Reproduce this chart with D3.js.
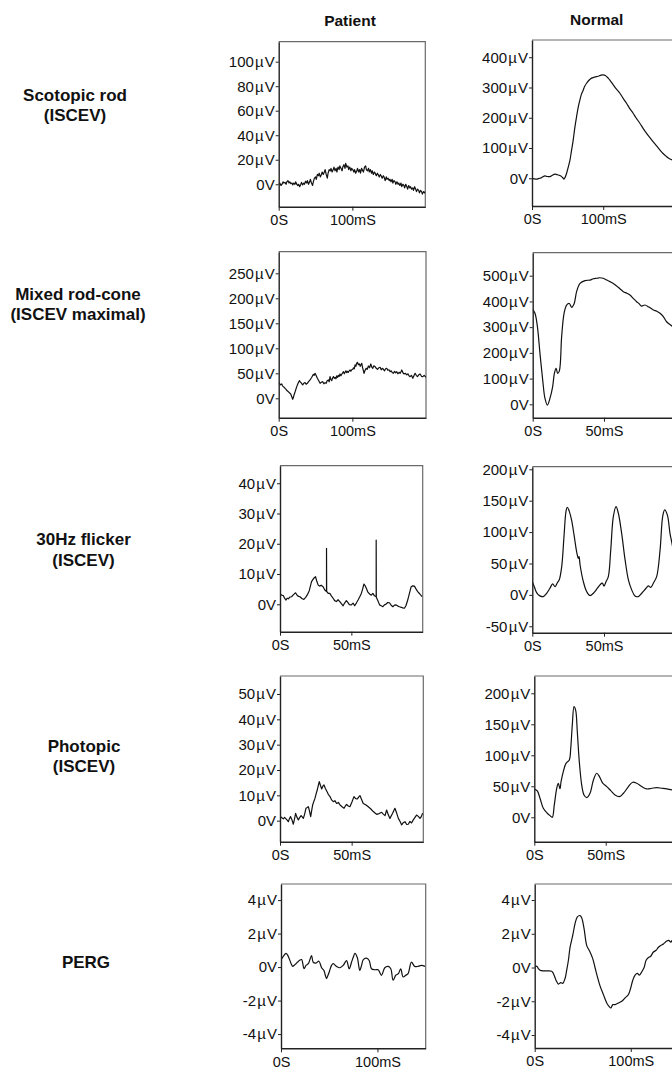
<!DOCTYPE html>
<html>
<head>
<meta charset="utf-8">
<script src="https://cdn.jsdelivr.net/npm/d3@7"></script>
<style>
  html, body { margin: 0; padding: 0; background: #fff; overflow: hidden; }
  svg { display: block; }
</style>
</head>
<body>
<svg id="chart" width="672" height="1069"></svg>
<script>
// ---- Data ---------------------------------------------------------
// ERG traces: [time in ms, amplitude in µV]

const COLUMNS = ['Patient', 'Normal'];

const ROW_LABELS = [
  ['Scotopic rod', '(ISCEV)'],
  ['Mixed rod-cone', '(ISCEV maximal)'],
  ['30Hz flicker', '(ISCEV)'],
  ['Photopic', '(ISCEV)'],
  ['PERG']
];

// tick values (µV) per panel
const Y_TICKS_P = [[0, 20, 40, 60, 80, 100], [0, 50, 100, 150, 200, 250], [0, 10, 20, 30, 40], [0, 10, 20, 30, 40, 50], [-4, -2, 0, 2, 4]];
const Y_TICKS_N = [[0, 100, 200, 300, 400], [0, 100, 200, 300, 400, 500], [-50, 0, 50, 100, 150, 200], [0, 50, 100, 150, 200], [-4, -2, 0, 2, 4]];
// tick values (ms)
const X_TICKS_P = [[0, 100], [0, 100], [0, 50], [0, 50], [0, 100]];
const X_TICKS_N = [[0, 100], [0, 50], [0, 50], [0, 50], [0, 100]];

// axis extents (data units)
const Y_DOM_P = [[-18.3, 116.3], [-38.8, 293.2], [-9.06, 45.8], [-8.3, 57.1], [-4.85, 4.96]];
const Y_DOM_N = [[-91.6, 457], [-52, 589.4], [-60.2, 204.1], [-39.4, 227.9], [-4.77, 4.95]];
const X_DOM_P = [[0, 199], [0, 200], [0, 100], [0, 100], [0, 150]];
const X_DOM_N = [[0, 205], [0, 102.4], [0, 101.8], [0, 102.2], [0, 152]];

const patScotopic = [[0,0],[1.5,1],[3,-1],[4.5,0],[6,2],[7,1],[8.5,1.5],[10,0],[11,2],[12.5,3],[14,1],[15,2],[16.5,0.5],[18,1],[19,-0.5],[20.5,1],[22,0],[23,2],[24.5,0],[26,-1],[27,0],[28.5,-2],[30,0],[31,1.5],[32.5,-0.5],[34,1],[35,0],[36.5,2.5],[38,1],[39,3],[40.5,0],[42,2],[43,4],[44.5,1],[46,-1],[47,2],[48.5,5],[50,6],[51,4],[52.5,8],[54,7],[55,9],[56.5,6],[58,8],[59,10],[60.5,8],[62,10],[63,12],[64.5,8],[66,5],[67,9],[68.5,12],[70,11],[71,13],[72.5,10],[74,12],[75,14],[76.5,11],[78,13],[79,10],[80.5,14],[82,12],[83,15],[84.5,13],[86,11],[87,14],[88.5,16],[90,13],[91,17],[92.5,14],[94,15],[95,12],[96.5,14],[98,11],[99,13],[100.5,12],[102,10],[103,12],[104.5,9],[106,11],[107,13],[108.5,10],[110,12],[111,9],[112.5,13],[114,11],[115,10],[116.5,14],[118,15],[119,12],[120.5,11],[122,13],[123,10],[124.5,12],[126,9],[127,11],[128.5,8],[130,10],[131,9],[132.5,7],[134,9],[135,8],[136.5,6],[138,8],[139,7],[140.5,5],[142,7],[143,6],[144.5,3],[146,6],[147,4],[148.5,5],[150,3],[151,4],[152.5,2],[154,4],[155,1],[156.5,3],[158,2],[159,0],[160.5,2],[162,0],[163,1],[164.5,-1],[166,1],[167,-2],[168.5,0],[170,-1],[171,-3],[172.5,0],[174,-2],[175,-4],[176.5,-1],[178,-3],[179,-2],[180.5,-4],[182,-3],[183,-5],[184.5,-2],[186,-4],[187,-6],[188.5,-4],[190,-5],[191,-7],[192.5,-5],[194,-6],[195,-8],[196.5,-6],[198,-7],[199,-6]];

const patMixed = [[0,31],[0.9,30],[2.5,27],[4.1,28.7],[5.2,25],[6.3,23.3],[8,21],[10,18],[11.5,15],[13.1,13.3],[14.5,11],[16.3,8.7],[17.5,4],[19,-2],[20,2],[20.8,6.7],[22.5,14],[24.5,23.3],[26.3,30],[28.1,35.3],[29.2,33],[30.3,31.3],[31.5,29],[32.6,26.7],[34,30],[35.8,31.3],[37.2,28],[38.9,30],[40.8,34],[42.6,36.7],[44.9,42],[47.1,48],[48.2,46],[49.4,50],[51,45],[52.5,40],[54.4,35],[56.2,30],[58,32],[59.8,33.3],[61.3,29],[63,31.3],[64.5,30],[65.8,35],[67.5,36.7],[68.5,33],[69.7,43.3],[70.8,38],[72,35.3],[73.1,40],[74.3,43.3],[75.5,40],[76.6,42],[77.7,39],[78.8,44.7],[80,42],[81.1,46],[82.2,44],[83.3,48.7],[84.5,45],[85.6,48],[86.8,51],[87.9,53.3],[89,49],[90.1,52],[91.2,55],[92.4,51.3],[93.5,54],[94.6,52],[95.8,55],[96.9,56.7],[98,54],[99.2,57],[100.5,58],[101.6,61],[102.6,59],[103.7,66.7],[104.8,64],[105.8,70],[106.9,72],[108.2,67],[109.6,68.7],[110.7,64],[111.7,67],[112.8,70],[113.8,62],[114.9,56],[115.9,50],[117,55],[118.7,60],[120.2,58],[121.8,64.7],[123.4,61],[125,68.7],[126.3,63],[127.7,60],[129.2,65],[130.9,63.3],[132.5,60],[134.1,58],[135.9,61],[137.7,62],[139.2,57],[140.7,60],[142.2,58],[143.7,55],[145.2,59],[146.7,60],[148.2,56],[149.8,57],[151.3,53.3],[152.8,55],[154.3,51],[155.8,50],[157.3,54],[158.8,51],[160.3,53.3],[161.8,49],[163.4,52],[164.9,50],[166,53],[167.1,56.7],[168.7,51],[170.3,48.7],[172.1,50],[173.9,46.7],[175.4,49],[176.9,45],[178.4,43.3],[180.2,46],[182.1,40],[183.6,45],[185.2,50],[186.8,46],[188.4,43.3],[190.2,47],[192,48.7],[193.8,44],[195.7,43.3],[197.5,46],[200,42]];

const patFlicker = [[0,3.6],[1,3.0],[2.3,2.9],[3.2,2.0],[4.2,1.4],[5,2.0],[5.8,1.8],[7,2.4],[8.1,2.5],[9.5,3.2],[10.9,3.8],[12,3.0],[13,2.6],[14,2.5],[15.3,1.9],[16.7,1.6],[18,2.3],[19.1,3.1],[20.5,4.5],[22.1,7.5],[23.5,8.5],[24.9,9.1],[25.8,7.6],[26.7,6.4],[27.8,6.0],[28.8,6.3],[30.2,5.8],[31.4,4.7],[32.6,4.2],[32.6,18.5],[32.7,4.3],[33.8,3.6],[34.9,3.6],[36,2.8],[37.2,2.0],[38.3,1.2],[39.5,0.9],[40.7,1.5],[41.9,0.9],[43,0.2],[44.2,-0.5],[45.4,0.5],[46.5,1.2],[47.5,0.6],[48.6,-0.1],[50,-0.2],[51.2,0.4],[52.3,-0.5],[53.5,0.4],[54.7,1.4],[55.8,2.4],[57,3.6],[58,5.2],[58.8,6.7],[59.6,6.2],[60.5,5.3],[61.6,4.0],[62.8,3.4],[64,3.0],[65.1,3.6],[66.2,2.8],[67.4,2.5],[67.4,21.2],[67.5,2.3],[68.6,1.2],[69.8,-0.2],[70.9,-0.5],[72.1,-0.8],[73.2,-0.2],[74.4,0.1],[75.5,0.6],[76.7,0.5],[77.9,-0.3],[79.1,-0.8],[80.2,-0.3],[81.4,-0.2],[82.6,-0.6],[83.7,-0.8],[85,-1.0],[86,-1.2],[87.2,-1.3],[88.3,-0.4],[89.5,1.4],[90.7,3.6],[91.9,5.8],[93,6.1],[94.2,6.0],[95.4,5.0],[96.5,4.2],[98,3.4],[99.5,2.5]];

const patPhotopic = [[0,1.6],[1.2,1.2],[2.3,0.7],[3.2,1.3],[4.2,0.7],[5,0.2],[5.8,-0.4],[6.6,0.8],[7.4,1.6],[8.3,0.4],[9.3,-1.4],[10.1,0.6],[10.9,2.9],[11.8,1.4],[12.8,0.3],[13.7,1.2],[14.7,2.0],[15.5,1.5],[16.3,0.9],[17.2,2.6],[18.1,4.9],[19,5.2],[19.8,5.5],[20.6,3.8],[21.4,1.6],[22.1,4.0],[22.8,6.2],[23.6,7.6],[24.4,8.8],[25.2,10.6],[26,12.1],[26.7,13.8],[27.4,15.4],[28.2,14.0],[29.1,12.5],[29.9,13.6],[30.7,14.1],[31.6,12.8],[32.6,11.7],[33.7,10.4],[34.9,9.5],[36,8.2],[37.2,7.5],[38.3,7.9],[39.5,6.8],[40.7,7.2],[41.9,6.2],[43.3,5.5],[44.7,4.9],[45.6,5.8],[46.5,6.4],[47.6,5.8],[48.8,5.5],[50.2,7.4],[51.6,9.5],[52.8,8.7],[54,8.6],[55,9.4],[55.8,9.9],[57,8.3],[58.1,6.8],[59.8,6.3],[61.6,5.5],[63.4,4.6],[65.1,3.6],[66.3,3.0],[67.4,2.5],[69.2,2.8],[70.9,3.3],[72.1,2.6],[73.3,2.0],[74.4,4.2],[75.5,2.4],[76.7,0.9],[78.5,2.8],[80.2,4.9],[81.4,3.0],[82.6,0.9],[83.8,-0.3],[84.9,-1.7],[86,-0.8],[87.2,-0.4],[88.4,-1.5],[89.5,-1.4],[90.7,-0.3],[91.8,-0.9],[93,0.3],[94.2,1.3],[95.3,2.2],[96.5,1.7],[97.7,0.9],[98.6,1.6],[99.5,2.9]];

const patPerg = [[0,0.43],[2.5,0.65],[5.2,0.82],[7,0.7],[8.6,0.49],[10.5,0.2],[12.1,0.04],[14,0.12],[15.5,0.2],[17.3,0.3],[19,0.39],[21.4,0.45],[22.6,0.2],[23.8,-0.1],[25,0],[25.9,0.1],[28.3,0.2],[30,0.45],[31.7,0.69],[33.4,0.29],[36.2,0.24],[39.3,0.35],[42.1,-0.04],[44.5,-0.2],[46,-0.5],[47.2,-0.69],[48.6,-0.5],[50,-0.29],[52.4,0.1],[54.1,0.2],[57.6,0.04],[61,-0.04],[64.5,0.1],[67.9,0.39],[70.7,-0.1],[73.1,0.29],[75,0.6],[76.6,0.82],[79,0.59],[81.7,-0.2],[83.5,0.1],[85.2,0.43],[88.6,0.53],[91.4,0.39],[93.8,-0.1],[97.2,-0.16],[100.7,-0.16],[104.1,-0.49],[107.6,-0.04],[111,0.04],[113.8,-0.1],[116.2,-0.78],[119,-0.49],[121.7,-0.39],[124.1,-0.1],[126.6,-0.59],[129.3,-0.49],[131.7,-0.39],[135.2,0.29],[138.6,0.04],[142.1,0.04],[145.5,0.1],[149.3,0.04]];

const normScotopic = [[0,0],[3,-2],[6.5,-3],[9,-1],[11.2,0],[14,3],[18.2,7.7],[21,6],[25.2,5.5],[28,9],[32.2,14],[35,12],[36.9,11],[39,9],[41.6,5.5],[43.5,1],[44.9,-3],[46.5,3],[48.6,16.5],[51,38],[53.3,60],[55.5,92],[57.9,127],[60,165],[62.6,204],[65,236],[67.3,259],[69.5,278],[72,292],[74,304],[76.6,314],[80,324],[83.6,331],[87,334],[90.7,336],[94,338],[97,341],[100,342],[103,340],[107,331],[110,322],[114,309],[118,296],[123.4,281],[128,264],[132.7,248],[137,231],[142,215],[146,200],[151.4,182],[156,165],[160.7,149],[165,136],[170,121],[175,107],[179.4,94],[184,82],[188.8,72],[192,66],[196.3,61],[200,56],[205,48]];

const normMixed = [[0,369],[1.6,354],[3.3,302],[5.1,198],[7,95],[8.6,23],[10.3,-3],[12.1,23],[14,69],[15.2,120],[16.4,140],[17.5,120],[18.7,130],[20.3,263],[22,354],[23.8,386],[25.7,392],[27.3,377],[29,390],[30.8,438],[33.2,470],[36.7,481],[40.2,483],[42.5,488],[44.9,490],[47,492],[49.5,490],[52,483],[54.2,477],[56.5,470],[58.9,460],[61,450],[63.6,438],[66,432],[68.2,425],[70.5,412],[72.9,399],[74.5,392],[76.4,382],[78.7,386],[81.5,378],[84.6,367],[87,362],[89.3,354],[91.5,342],[93.9,321],[97.7,304],[100,292],[102.4,280]];

const normFlicker = [[0,21],[1.4,13],[3,3.7],[5.3,-1.6],[7.7,-2.7],[10,2.6],[12.3,10.6],[14.2,17.5],[15.8,13],[17.4,19],[18.8,24],[20.5,45],[22.1,93],[23.5,133],[24.4,139.5],[25.8,133],[27.4,119],[29.1,95.5],[30.9,69],[32.1,58],[32.6,61],[33.3,48],[35.6,21],[37.9,5.3],[40.2,-1],[42.6,2.6],[44.9,9],[47.2,16],[48.8,18.6],[50,14],[51.4,21],[53,29],[54.7,71.6],[56.5,124.7],[58.4,140.6],[60,130],[62.3,98],[64.7,55.7],[67,23.9],[69.3,8],[71.6,-1.6],[74,-2.7],[76.3,2.6],[79.3,10.6],[80.9,14.3],[82.6,12],[84.4,18.6],[86.7,29],[89.1,71.6],[90.9,124.7],[92.3,135.3],[94.2,127],[96,98],[97.4,82],[99,62],[101.8,35]];

const normPhotopic = [[0,45.7],[2.1,42.5],[4,30.6],[6.3,14.5],[9.1,6.5],[11,2.7],[12.6,0],[14,19.9],[15.7,46.8],[16.8,54.8],[18,46],[18.7,57],[20.3,73.7],[22.2,87],[24.5,92.5],[25.5,111],[26.6,149],[27.8,178.5],[29,172],[30.1,138],[31.5,89.8],[33.2,52],[34.8,36],[36.7,31.7],[39,38.7],[41.4,60.2],[43.7,71],[45.6,65.6],[47.9,55],[50.7,49.5],[53.5,43],[56.5,36],[59.6,33.3],[62.4,38.7],[65.9,49.5],[68.9,56.5],[71.7,54.8],[75.2,49.5],[78.7,45.7],[82.2,46.8],[85.7,47.8],[89.3,46.8],[92.8,45.7],[96.5,44],[102.2,43]];

const normPerg = [[0,0],[2.1,0.08],[3.8,-0.06],[5.6,-0.16],[9,-0.2],[12.5,-0.2],[17.7,-0.22],[19.4,-0.35],[22.2,-0.75],[24.7,-0.98],[27.1,-0.9],[29.2,-0.94],[31.6,-0.65],[33.3,-0.16],[35.1,0.43],[36.8,1.2],[39.6,1.9],[42,2.6],[44.4,3.0],[47.2,3.08],[49,2.94],[51.4,2.3],[54.2,1.3],[56.9,1.0],[60.4,0.53],[62.8,0],[65.3,-0.55],[68.1,-1.1],[71.5,-1.6],[75,-2.1],[77.4,-2.3],[79.2,-2.4],[81.3,-2.2],[83.7,-2.2],[87.2,-2.1],[90.6,-2.0],[94.1,-1.8],[97.6,-1.6],[100,-1.2],[102.1,-0.75],[104.5,-0.45],[106.9,-0.35],[109,-0.45],[111.5,-0.25],[113.9,0],[116,0.43],[118.4,0.59],[120.8,0.67],[123.6,0.92],[126.4,1.02],[128.8,1.2],[131.3,1.31],[134,1.4],[137.5,1.57],[139.6,1.61],[141.7,1.51],[143,1.6],[147,1.75],[152,1.9]];

const PATIENT = [patScotopic, patMixed, patFlicker, patPhotopic, patPerg];
const NORMAL  = [normScotopic, normMixed, normFlicker, normPhotopic, normPerg];

// ---- Layout -------------------------------------------------------
// panel frames in px: [left, top, width, height]
const FRAME_P = [[278.7, 41.7, 146.6, 165], [278.7, 251.7, 147.3, 166], [280, 465.7, 142.7, 166], [280, 676, 143.3, 165.7], [281, 884, 144.7, 164.3]];
const FRAME_N = [[532, 40, 146, 166], [532.7, 252.7, 146, 165], [532.3, 466.7, 146, 166], [534.3, 676, 146, 165.7], [534.7, 884, 146, 164]];
const LABEL_POS = [[75, 100.5], [78, 299.5], [83.5, 545], [84, 751.5], [86, 967.5]];
const HEAD_POS = [[350, 26], [596.7, 24.5]];

const FONT = '"Liberation Sans", Arial, Helvetica, sans-serif';
const svg = d3.select('#chart');

const fmtV = v => v === 0 ? '0V' : v + 'µV';
const fmtT = t => t === 0 ? '0S' : t + 'mS';

function drawPanel(id, fr, xDom, yDom, xTicks, yTicks, data, smooth) {
  const [px, py, pw, ph] = fr;
  const x = d3.scaleLinear().domain(xDom).range([px, px + pw]);
  const y = d3.scaleLinear().domain(yDom).range([py + ph, py]);

  svg.append('clipPath').attr('id', id)
    .append('rect').attr('x', px).attr('y', py).attr('width', pw).attr('height', ph);

  // top + right border (lighter, like the scan)
  svg.append('path')
    .attr('d', `M${px},${py}H${px + pw}V${py + ph}`)
    .attr('fill', 'none').attr('stroke', '#6a6a6a').attr('stroke-width', 1.2);

  const line = d3.line()
    .x(d => x(d[0])).y(d => y(d[1]))
    .curve(smooth ? d3.curveCatmullRom.alpha(0.5) : d3.curveLinear);

  svg.append('path')
    .datum(data)
    .attr('clip-path', `url(#${id})`)
    .attr('d', line)
    .attr('fill', 'none')
    .attr('stroke', '#111')
    .attr('stroke-width', 1.2)
    .attr('stroke-linejoin', 'round');

  const gy = svg.append('g')
    .attr('transform', `translate(${px},0)`)
    .call(d3.axisLeft(y).tickValues(yTicks).tickFormat(fmtV).tickSize(3).tickSizeOuter(0).tickPadding(1));
  const gx = svg.append('g')
    .attr('transform', `translate(0,${py + ph})`)
    .call(d3.axisBottom(x).tickValues(xTicks).tickFormat(fmtT).tickSize(4).tickSizeOuter(0).tickPadding(4));

  gy.attr('font-size', 15);
  gx.attr('font-size', 14.5);
  [gy, gx].forEach(g => {
    g.attr('font-family', FONT);
    g.select('.domain').attr('stroke', '#222').attr('stroke-width', 1.4);
    g.selectAll('.tick line').attr('stroke', '#222').attr('stroke-width', 1);
    g.selectAll('.tick text').attr('fill', '#111');
  });

  // the µ in the scan is set a little wider than the digits around it
  gy.selectAll('.tick text').each(function (d) {
    if (d === 0) return;
    const t = d3.select(this).text(null);
    t.append('tspan').text(String(d));
    t.append('tspan').attr('dx', 1.2).text('µ');
    t.append('tspan').attr('dx', 1).text('V');
  });
}

for (let r = 0; r < 5; r++) {
  drawPanel(`cp${r}`, FRAME_P[r], X_DOM_P[r], Y_DOM_P[r], X_TICKS_P[r], Y_TICKS_P[r], PATIENT[r], r === 4);
  drawPanel(`cn${r}`, FRAME_N[r], X_DOM_N[r], Y_DOM_N[r], X_TICKS_N[r], Y_TICKS_N[r], NORMAL[r], true);
}

// ---- Labels -------------------------------------------------------
COLUMNS.forEach((c, i) => {
  svg.append('text')
    .attr('x', HEAD_POS[i][0]).attr('y', HEAD_POS[i][1])
    .attr('text-anchor', 'middle')
    .attr('font-family', FONT).attr('font-weight', 'bold').attr('font-size', 15.5)
    .attr('fill', '#111')
    .text(c);
});

ROW_LABELS.forEach((lines, i) => {
  const t = svg.append('text')
    .attr('text-anchor', 'middle')
    .attr('font-family', FONT).attr('font-weight', 'bold').attr('font-size', 17)
    .attr('fill', '#111');
  lines.forEach((s, j) => {
    t.append('tspan')
      .attr('x', LABEL_POS[i][0])
      .attr('y', LABEL_POS[i][1] + j * 20.5)
      .text(s);
  });
});
</script>
</body>
</html>
